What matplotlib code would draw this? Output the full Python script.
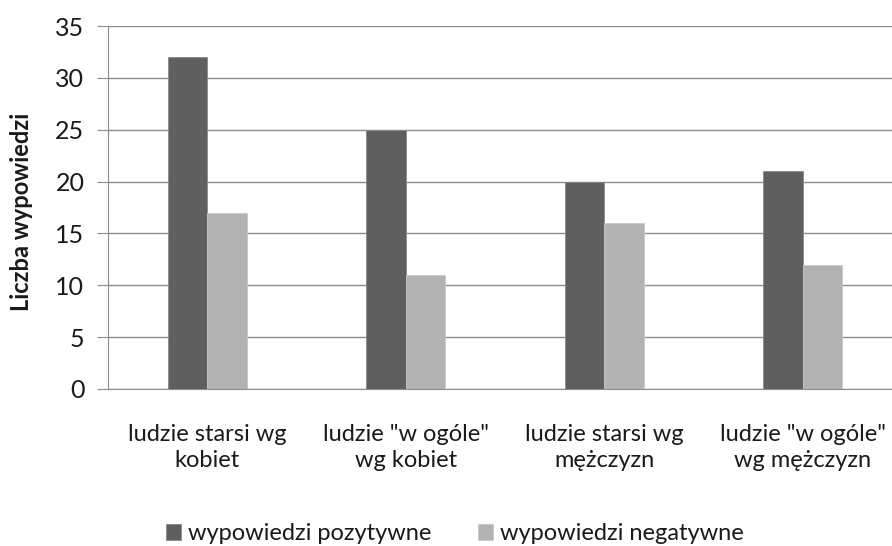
import matplotlib
matplotlib.use("Agg")
import matplotlib.pyplot as plt
import numpy as np

categories = [
    'ludzie starsi wg\nkobiet',
    'ludzie "w ogóle"\nwg kobiet',
    'ludzie starsi wg\nmężczyzn',
    'ludzie "w ogóle"\nwg mężczyzn',
]
positive = [32, 25, 20, 21]
negative = [17, 11, 16, 12]
series_labels = ["wypowiedzi pozytywne", "wypowiedzi negatywne"]
y_ticks = [0, 5, 10, 15, 20, 25, 30, 35]

DARK = "#5f5f5f"
LIGHT = "#b2b2b2"
GRID = "#8c8c8c"
TEXT = "#1a1a1a"

plt.rcParams["font.family"] = ["Lato", "DejaVu Sans"]

fig = plt.figure(figsize=(8.92, 5.46), dpi=100)
ax = fig.add_axes([108 / 892, 157 / 546, 784 / 892, 363 / 546])

x = np.arange(len(categories))
w = 0.2
ax.bar(x - w / 2, positive, w, color=DARK, edgecolor="#8a8a8a", linewidth=0.6,
       label=series_labels[0], zorder=3)
ax.bar(x + w / 2, negative, w, color=LIGHT, edgecolor="#c8c8c8", linewidth=0.6,
       label=series_labels[1], zorder=3)

ax.set_xlim(-0.5, 3.45)
ax.set_ylim(0, 35)
ax.set_yticks(y_ticks)
ax.tick_params(axis="y", labelsize=18, colors=TEXT, length=8, color=GRID, pad=9)
ax.tick_params(axis="x", length=0, labelsize=17, colors=TEXT, pad=25)
ax.set_xticks(x)
ax.set_xticklabels(categories, linespacing=1.3)
ax.grid(True, axis="y", color=GRID, linewidth=1.0, zorder=0)

for side in ["top", "right"]:
    ax.spines[side].set_visible(False)
ax.spines["left"].set_color(GRID)
ax.spines["bottom"].set_color(GRID)

# y label placed in figure pixels, as in the reference
fig.text(22 / 892, 1 - 212 / 546, "Liczba wypowiedzi", rotation=90, fontsize=17,
         fontweight="bold", color=TEXT, ha="center", va="center")

fig.legend(loc="center", bbox_to_anchor=(455 / 892, 1 - 534 / 546), ncol=2, frameon=False,
           fontsize=17, handlelength=0.63, handleheight=0.63, handletextpad=0.3,
           columnspacing=1.95, labelcolor=TEXT)

fig.savefig("out.png", dpi=100)
